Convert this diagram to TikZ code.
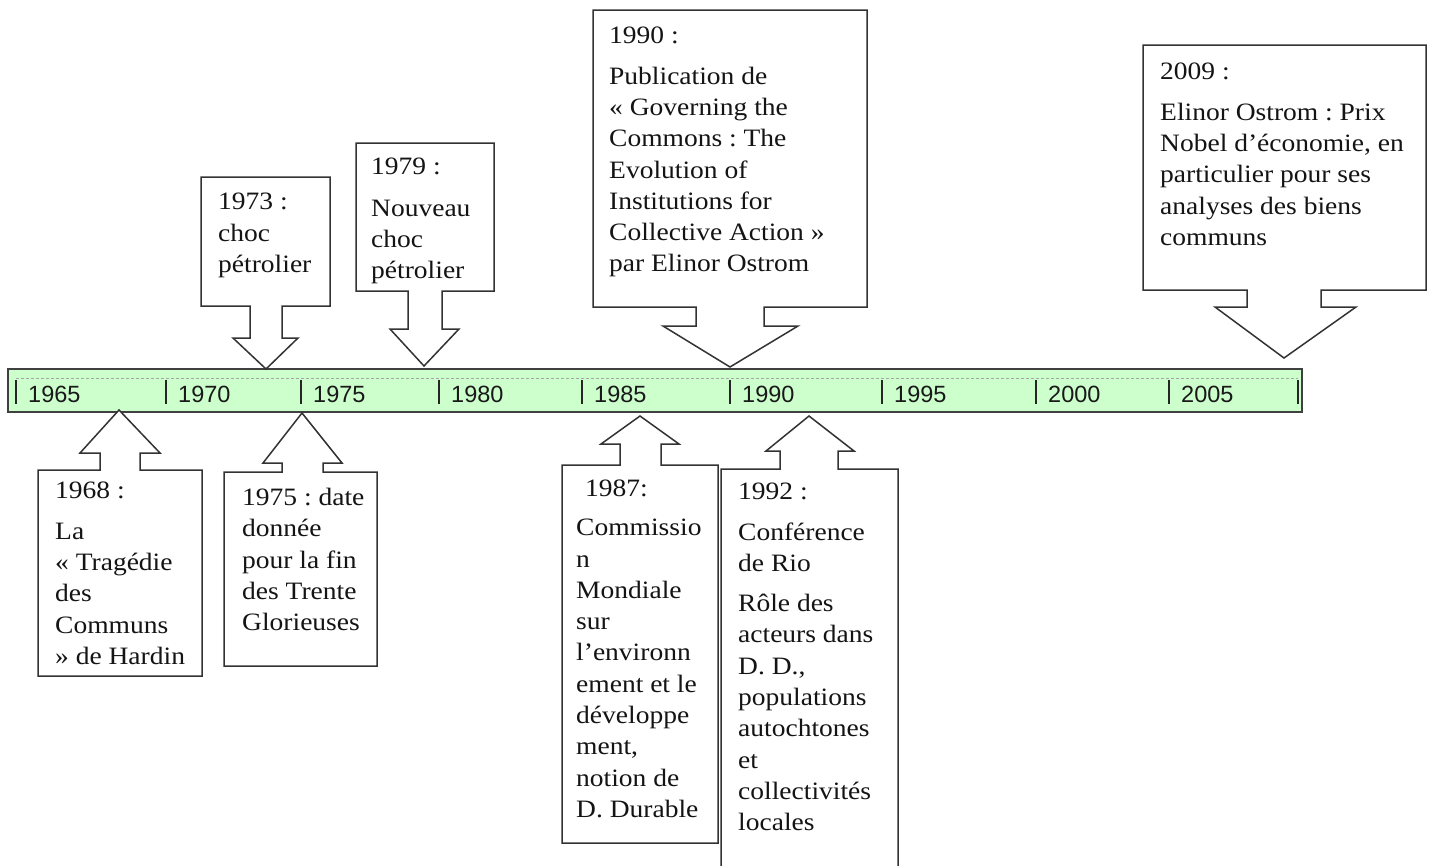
\documentclass[tikz,border=0pt]{standalone}
\usepackage{fontspec}
\setmainfont{Liberation Serif}[FakeStretch=1.1]
\newfontfamily\yearfont{Liberation Sans}
\frenchspacing
\begin{document}
\begin{tikzpicture}[x=1pt,y=-1pt,
  callout/.style={draw=black!80,line width=1.5pt,fill=white,line join=miter},
  note/.style={anchor=north west,inner sep=0pt,align=left,
    font=\fontsize{25}{31.3}\selectfont,text=black!92},
  yearlabel/.style={anchor=base west,inner sep=0pt,
    font=\yearfont\fontsize{23.5}{23.5}\selectfont,text=black!90},
  yeartick/.style={line width=2pt,draw=black!85},
  band/.style={draw=black!75,line width=1.6pt,fill=green!20}]
\useasboundingbox (0,0) rectangle (1430,865);
\clip (0,0) rectangle (1430,865);

% time axis
\draw[band] (8,369) rectangle (1302,412);
\draw[gray!70,line width=0.9pt,dash pattern=on 3pt off 2pt] (16,378) -- (1298,378);
\foreach \tx/\yr in {16/1965,166/1970,301/1975,439/1980,582/1985,730/1990,882/1995,1036/2000,1169/2005}{
  \draw[yeartick] (\tx,380) -- (\tx,404);
  \node[yearlabel] (y\yr) at (\tx+12,402) {\yr};
}
\draw[yeartick] (1298,380) -- (1298,404);

% callouts above the axis
\draw[callout] (201,177) -- (330,177) -- (330,306) -- (282,306) -- (282,338) -- (298,338)
  -- (266,369) -- (233,338) -- (250,338) -- (250,306) -- (201,306) -- cycle;
\draw[callout] (356,143) -- (494,143) -- (494,291) -- (442,291) -- (442,329) -- (459,329)
  -- (424,366) -- (390,329) -- (408,329) -- (408,291) -- (356,291) -- cycle;
\draw[callout] (593,10) -- (867,10) -- (867,307) -- (764,307) -- (764,326) -- (798,326)
  -- (730,367) -- (663,326) -- (696,326) -- (696,307) -- (593,307) -- cycle;
\draw[callout] (1143,45) -- (1426,45) -- (1426,290) -- (1321,290) -- (1321,307) -- (1356,307)
  -- (1284,358) -- (1215,307) -- (1247,307) -- (1247,290) -- (1143,290) -- cycle;

% callouts below the axis
\draw[callout] (119,410) -- (160,453) -- (140,453) -- (140,470) -- (202,470) -- (202,676)
  -- (38,676) -- (38,470) -- (100,470) -- (100,453) -- (80,453) -- cycle;
\draw[callout] (302,413) -- (342,463) -- (323,463) -- (323,472) -- (377,472) -- (377,666)
  -- (224,666) -- (224,472) -- (282,472) -- (282,463) -- (263,463) -- cycle;
\draw[callout] (640,416) -- (679,444) -- (661,444) -- (661,465) -- (718,465) -- (718,843)
  -- (562,843) -- (562,465) -- (620,465) -- (620,444) -- (601,444) -- cycle;
\draw[callout] (809,416) -- (854,451) -- (838,451) -- (838,469) -- (898,469) -- (898,900)
  -- (721,900) -- (721,469) -- (780,469) -- (780,451) -- (766,451) -- cycle;

% texts
\node[note] (n1973) at (218,193) {1973 :\\choc\\pétrolier};
\node[note] (n1979) at (371,158) {1979 :\\[10pt]Nouveau\\choc\\pétrolier};
\node[note] (n1990) at (609,27) {1990 :\\[9pt]Publication de\\«~Governing the\\Commons : The\\Evolution of\\Institutions for\\Collective Action~»\\par Elinor Ostrom};
\node[note] (n2009) at (1160,63) {2009 :\\[9pt]Elinor Ostrom : Prix\\Nobel d’économie, en\\particulier pour ses\\analyses des biens\\communs};
\node[note] (n1968) at (55,482) {1968 :\\[9pt]La\\«~Tragédie\\des\\Communs\\»~de Hardin};
\node[note] (n1975) at (242,488) {1975 : date\\donnée\\pour la fin\\des Trente\\Glorieuses};
\node[note] (n1987a) at (585,480) {1987:};
\node[note] (n1987) at (576,519) {Commissio\\n\\Mondiale\\sur\\l’environn\\ement et le\\développe\\ment,\\notion de\\D. Durable};
\node[note] (n1992) at (738,483) {1992 :\\[9pt]Conférence\\de Rio\\[9pt]Rôle des\\acteurs dans\\D. D.,\\populations\\autochtones\\et\\collectivités\\locales};
\end{tikzpicture}
\end{document}
